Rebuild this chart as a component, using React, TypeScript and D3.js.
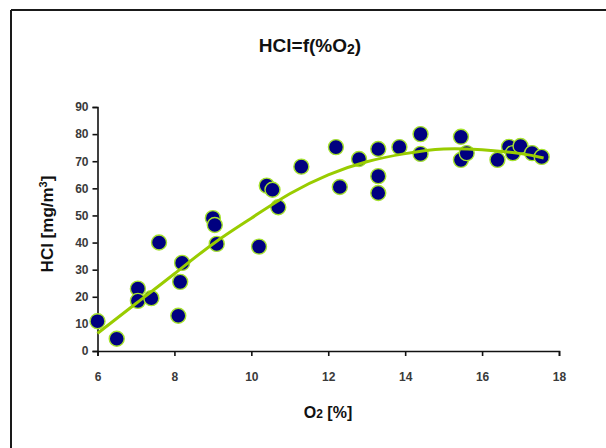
import * as d3 from "d3";
import { useEffect, useRef } from "react";

// O2 [%] vs HCl [mg/m3] measurements
const o2 = [6.0, 6.5, 7.05, 7.05, 7.4, 7.6, 8.1, 8.15, 8.2, 9.0, 9.05, 9.1, 10.2, 10.4, 10.55, 10.7, 11.3, 12.2, 12.3, 12.8, 13.3, 13.3, 13.3, 13.85, 14.4, 14.4, 15.45, 15.45, 15.6, 16.4, 16.7, 16.8, 17.0, 17.3, 17.55];
const hcl = [11, 4.5, 23, 18.5, 19.5, 40, 13, 25.5, 32.5, 49, 46.5, 39.5, 38.5, 61, 59.5, 53, 68, 75.2, 60.5, 70.8, 74.5, 64.5, 58.3, 75.2, 80, 72.7, 79, 70.5, 73, 70.5, 75.3, 73, 75.6, 73, 71.6];

// trendline
const trendX = [6, 7, 8, 9, 10, 11, 12, 13, 14, 15, 16, 17, 17.6];
const trendY = [6.5, 17.5, 28.5, 39.5, 49, 58, 65, 69.8, 72.8, 74.5, 74.2, 72.8, 71.2];

const xTicks = [6, 8, 10, 12, 14, 16, 18];
const yTicks = [0, 10, 20, 30, 40, 50, 60, 70, 80, 90];

const App = () => {
  const svgRef = useRef<SVGSVGElement>(null);

  useEffect(() => {
    const w = 606;
    const h = 448;
    const svg = d3.select(svgRef.current).attr("width", w).attr("height", h);
    svg.selectAll("*").remove();

    svg.append("rect").attr("width", w).attr("height", h).attr("fill", "white");
    // outer frame, only top and left show
    svg.append("line").attr("x1", 11).attr("x2", w).attr("y1", 10).attr("y2", 10)
      .attr("stroke", "#1a1a1a").attr("stroke-width", 2);
    svg.append("line").attr("x1", 11).attr("x2", 11).attr("y1", 10).attr("y2", h)
      .attr("stroke", "#1a1a1a").attr("stroke-width", 2);

    const xScale = d3.scaleLinear().domain([6, 18]).range([97.5, 559]);
    const yScale = d3.scaleLinear().domain([0, 90]).range([351, 107]);

    const font = "'Liberation Sans', Arial, sans-serif";

    // axes
    const xAxis = d3.axisBottom(xScale).tickValues(xTicks).tickSize(5).tickPadding(16).tickFormat(d3.format("d"));
    const yAxis = d3.axisLeft(yScale).tickValues(yTicks).tickSize(5).tickPadding(4).tickFormat(d3.format("d"));

    const gx = svg.append("g").attr("transform", `translate(0,${yScale(0)})`).call(xAxis);
    const gy = svg.append("g").attr("transform", `translate(${xScale(6)},0)`).call(yAxis);

    [gx, gy].forEach(g => {
      g.select(".domain").attr("stroke", "#111").attr("stroke-width", 1.6);
      g.selectAll(".tick line").attr("stroke", "#111").attr("stroke-width", 1.6);
      g.selectAll(".tick text")
        .attr("font-family", font)
        .attr("font-size", 12)
        .attr("font-weight", "bold")
        .attr("fill", "#3a3a3a");
    });

    // markers
    svg.append("g")
      .selectAll("circle")
      .data(o2)
      .join("circle")
      .attr("cx", d => xScale(d))
      .attr("cy", (d, i) => yScale(hcl[i]))
      .attr("r", 7.5)
      .attr("fill", "#000080")
      .attr("stroke", "#a6e22e")
      .attr("stroke-width", 1.4);

    // trendline
    const line = d3.line<number>()
      .x(d => xScale(d))
      .y((d, i) => yScale(trendY[i]))
      .curve(d3.curveNatural);
    svg.append("path")
      .attr("d", line(trendX))
      .attr("fill", "none")
      .attr("stroke", "#99cc00")
      .attr("stroke-width", 3);

    // title
    const title = svg.append("text")
      .attr("x", 310).attr("y", 52)
      .attr("text-anchor", "middle")
      .attr("font-family", font)
      .attr("font-size", 19)
      .attr("font-weight", "bold")
      .attr("fill", "#111");
    title.append("tspan").text("HCl=f(%O");
    title.append("tspan").attr("font-size", 14).attr("dy", 2).text("2");
    title.append("tspan").attr("dy", -2).text(")");

    // x title
    const xt = svg.append("text")
      .attr("x", 328).attr("y", 418)
      .attr("text-anchor", "middle")
      .attr("font-family", font)
      .attr("font-size", 16)
      .attr("font-weight", "bold")
      .attr("fill", "#111");
    xt.append("tspan").text("O");
    xt.append("tspan").attr("font-size", 12).text("2");
    xt.append("tspan").text(" [%]");

    // y title
    const yt = svg.append("text")
      .attr("transform", "translate(53,224) rotate(-90)")
      .attr("text-anchor", "middle")
      .attr("font-family", font)
      .attr("font-size", 17)
      .attr("font-weight", "bold")
      .attr("fill", "#111");
    yt.append("tspan").text("HCl  [mg/m");
    yt.append("tspan").attr("font-size", 11).attr("dy", -6).text("3");
    yt.append("tspan").attr("dy", 6).text("]");
  }, []);

  return (
    <svg ref={svgRef} style={{ position: "absolute", left: 0, top: 0 }}></svg>
  );
};

export default App;
